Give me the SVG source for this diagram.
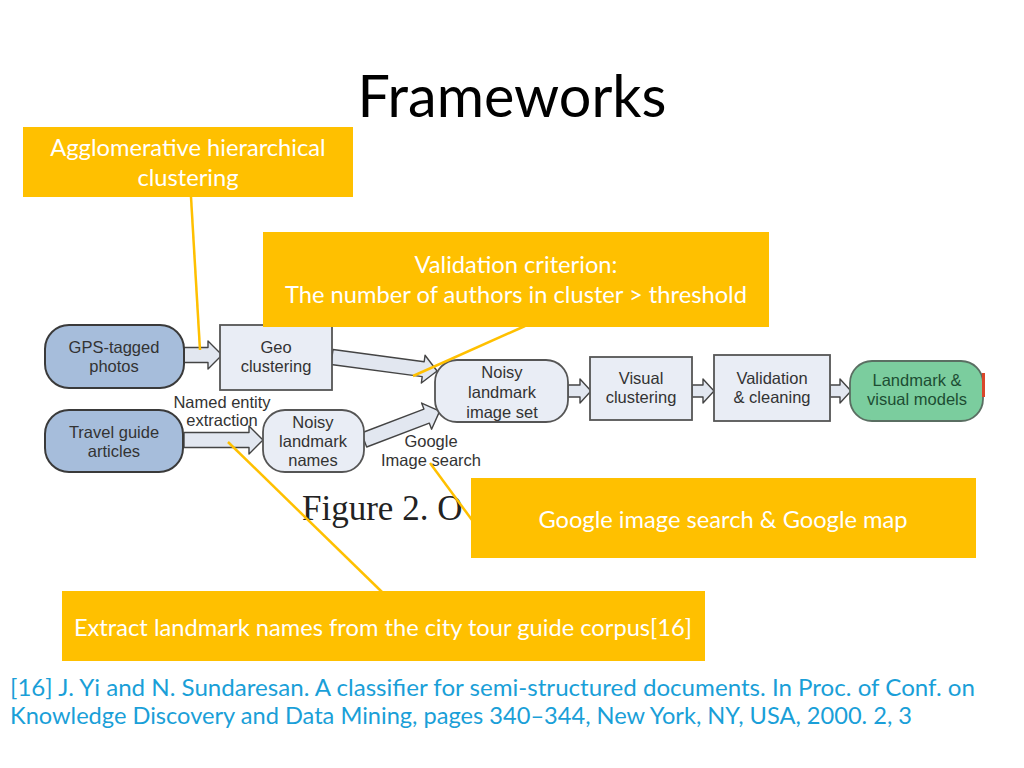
<svg xmlns="http://www.w3.org/2000/svg" width="1024" height="768" viewBox="0 0 1024 768">
<style>
.title{font-family:Lato,"Open Sans",sans-serif;font-size:57.5px;fill:#000;text-anchor:middle}
.fig{font-family:"Liberation Sans",Arial,sans-serif;font-size:16.5px;fill:#333;text-anchor:middle}
.figg{font-family:"Liberation Sans",Arial,sans-serif;font-size:16.5px;fill:#1d4d33;text-anchor:middle}
.blue{fill:#a6bddb;stroke:#3a3a3a;stroke-width:2}
.gray{fill:#e9edf5;stroke:#555;stroke-width:1.8}
.green{fill:#7bcd9e;stroke:#5a6e62;stroke-width:1.8}
.barrow{fill:#e2e7f0;stroke:#444;stroke-width:1.4;stroke-linejoin:round}
.call{fill:#FFC000}
.ctext{font-family:Lato,"Open Sans",sans-serif;font-size:23.7px;fill:#fff;text-anchor:middle}
.cline{stroke:#FFC000;stroke-width:2.5;fill:none}
.ref{font-family:Lato,"Open Sans",sans-serif;font-size:23.8px;fill:#1a9fd8}
.cap{font-family:"Liberation Serif","Times New Roman",serif;font-size:35px;fill:#222}
</style>
<rect width="1024" height="768" fill="#fff"/>
<text class="title" x="512" y="117">Frameworks</text>

<g id="figure-caption"><text class="cap" x="302" y="520">Figure 2. O</text></g>

<g id="connectors">
<polygon class="barrow" points="184,347.5 208,347.5 208,341 222,355 208,369 208,362.5 184,362.5"/>
<polygon class="barrow" points="184,432.5 249,432.5 249,426 263,440 249,454 249,447.5 184,447.5"/>
<polygon class="barrow" transform="translate(332,357) rotate(7.6)" points="0,-7.5 92,-7.5 92,-14 106,0 92,14 92,7.5 0,7.5"/>
<polygon class="barrow" transform="translate(364,440) rotate(-20.9)" points="0,-7.5 67,-7.5 67,-14 81,0 67,14 67,7.5 0,7.5"/>
<polygon class="barrow" points="568,385 580,385 580,379 591,391 580,403 580,397 568,397"/>
<polygon class="barrow" points="692,385 703,385 703,379 714,391 703,403 703,397 692,397"/>
<polygon class="barrow" points="830,385 840,385 840,379 851,391 840,403 840,397 830,397"/>
<text class="fig" x="222" y="408">Named entity</text>
<text class="fig" x="222" y="426">extraction</text>
<text class="fig" x="431" y="447">Google</text>
<text class="fig" x="431" y="466">Image search</text>
</g>

<g id="gps">
<rect class="blue" x="45" y="325" width="139" height="63" rx="24"/>
<text class="fig" x="114" y="353">GPS-tagged</text>
<text class="fig" x="114" y="372">photos</text>
</g>
<g id="travel">
<rect class="blue" x="45" y="410" width="138" height="62" rx="24"/>
<text class="fig" x="114" y="438">Travel guide</text>
<text class="fig" x="114" y="457">articles</text>
</g>
<g id="geo">
<rect class="gray" x="220" y="325" width="112" height="65"/>
<text class="fig" x="276" y="353">Geo</text>
<text class="fig" x="276" y="372">clustering</text>
</g>
<g id="noisy-names">
<rect class="gray" x="263" y="410" width="101" height="62" rx="22"/>
<text class="fig" x="313" y="428">Noisy</text>
<text class="fig" x="313" y="447">landmark</text>
<text class="fig" x="313" y="466">names</text>
</g>
<g id="noisy-set">
<rect class="gray" x="435" y="360" width="133" height="62" rx="22"/>
<text class="fig" x="502" y="378">Noisy</text>
<text class="fig" x="502" y="398">landmark</text>
<text class="fig" x="502" y="418">image set</text>
</g>
<g id="visual">
<rect class="gray" x="590" y="357" width="102" height="63"/>
<text class="fig" x="641" y="384">Visual</text>
<text class="fig" x="641" y="403">clustering</text>
</g>
<g id="validation">
<rect class="gray" x="714" y="355" width="116" height="66"/>
<text class="fig" x="772" y="384">Validation</text>
<text class="fig" x="772" y="403">&amp; cleaning</text>
</g>
<g id="landmark">
<rect class="green" x="850" y="361" width="133" height="60" rx="22"/>
<rect x="982" y="373" width="3" height="24" fill="#d9472b"/>
<text class="figg" x="917" y="386">Landmark  &amp;</text>
<text class="figg" x="917" y="405">visual models</text>
</g>

<g id="callout-lines">
<line class="cline" x1="191" y1="197" x2="200" y2="350"/>
<line class="cline" x1="525" y1="326" x2="413" y2="376"/>
<line class="cline" x1="430" y1="463" x2="472" y2="520"/>
<line class="cline" x1="382" y1="592" x2="228" y2="442"/>
</g>

<g id="callout-agglomerative">
<rect class="call" x="23" y="127" width="330" height="70"/>
<text class="ctext" x="188" y="156">Agglomerative hierarchical</text>
<text class="ctext" x="188" y="186">clustering</text>
</g>
<g id="callout-validation">
<rect class="call" x="263" y="232" width="506" height="95"/>
<text class="ctext" x="516" y="273">Validation criterion:</text>
<text class="ctext" x="516" y="303">The number of authors in cluster &gt; threshold</text>
</g>
<g id="callout-google">
<rect class="call" x="471" y="478" width="505" height="80"/>
<text class="ctext" x="723" y="528">Google image search &amp; Google map</text>
</g>
<g id="callout-extract">
<rect class="call" x="62" y="591" width="643" height="70"/>
<text class="ctext" x="383" y="636">Extract landmark names from the city tour guide corpus[16]</text>
</g>

<g id="reference">
<text class="ref" x="10" y="696" textLength="965" lengthAdjust="spacingAndGlyphs">[16] J. Yi and N. Sundaresan. A classifier for semi-structured documents. In Proc. of Conf. on</text>
<text class="ref" x="10" y="724" textLength="902" lengthAdjust="spacingAndGlyphs">Knowledge Discovery and Data Mining, pages 340–344, New York, NY, USA, 2000. 2, 3</text>
</g>
</svg>
